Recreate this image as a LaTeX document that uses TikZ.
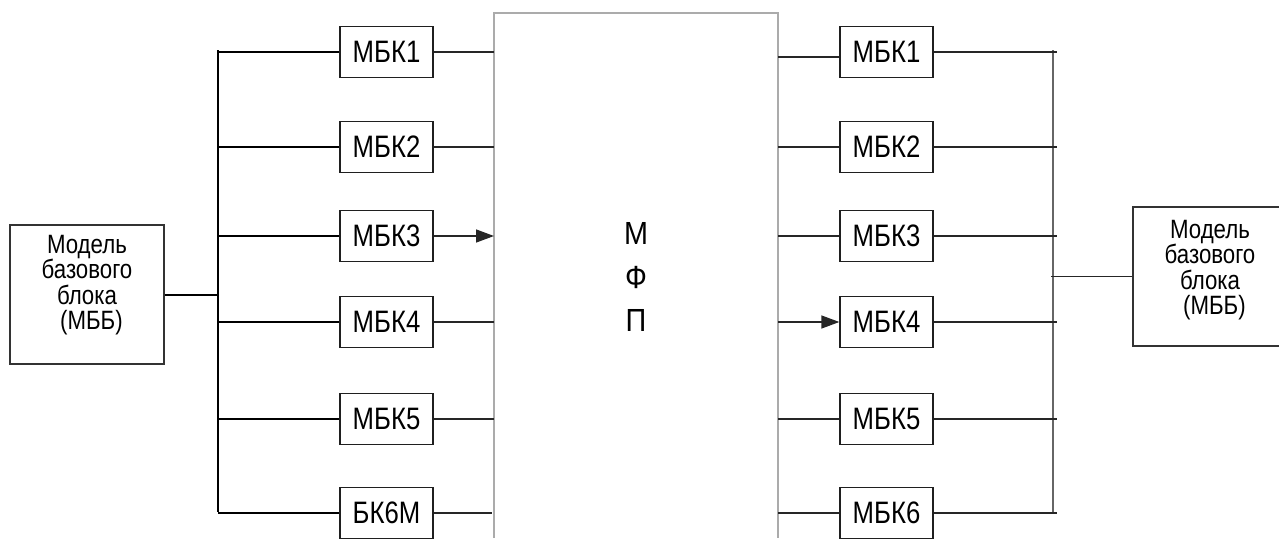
\documentclass[tikz,border=0pt]{standalone}
\usepackage{fontspec}
\setmainfont{Liberation Sans}
\usetikzlibrary{arrows.meta}
\newcommand\narrow[2][0.83]{\scalebox{#1}[1]{#2}}
\begin{document}
\begin{tikzpicture}[x=1pt,y=-1pt,
  box/.style={draw=black!88, line width=1.3pt, minimum width=93pt, minimum height=51pt,
    inner sep=0pt, font=\fontsize{31}{31}\selectfont},
  bigbox/.style={draw=black!80, line width=1.1pt, inner sep=0pt},
  lbl/.style={align=center, inner sep=0pt, font=\fontsize{26.5}{25.5}\selectfont},
  wire/.style={draw=black!85, line width=1.4pt},
  lbus/.style={draw=black, line width=2pt},
  rbus/.style={draw=black!60, line width=2pt},
  frame/.style={draw=black!33, line width=1.8pt},
  tip/.style={-{Triangle[length=18pt,width=13pt]}}
]
\useasboundingbox (0,0) rectangle (1279,538);

% central block (open at the bottom)
\coordinate (cL) at (494,538);
\coordinate (cR) at (778,538);
\draw[frame] (cL) -- (494,13) -- (778,13) -- (cR);
\node[font=\fontsize{32}{43.5}\selectfont, align=center, inner sep=0pt] (mfp) at (636,277)
  {\narrow[0.9]{М}\\\narrow[0.9]{Ф}\\\narrow[0.9]{П}};

% left base block
\node[bigbox, minimum width=154pt, minimum height=139pt] (mbbL) at (87,294.5) {};
\node[lbl] (mbbLt) at (87,285) {\narrow[0.84]{Модель}\\\narrow[0.84]{базового}\\\narrow[0.84]{блока}\\\narrow[0.84]{\hspace{0.4em}(МББ)}};

% left bus
\coordinate (lbt) at (218,50);
\coordinate (lbb) at (218,512);
\draw[lbus] (lbt) -- (lbb);
\draw[lbus] (mbbL.east) -- (mbbL.east -| lbt);

% left column of boxes
\node[box] (l1) at (386.5,52)  {\narrow{МБК1}};
\node[box] (l2) at (386.5,147) {\narrow{МБК2}};
\node[box] (l3) at (386.5,236) {\narrow{МБК3}};
\node[box] (l4) at (386.5,322) {\narrow{МБК4}};
\node[box] (l5) at (386.5,419) {\narrow{МБК5}};
\node[box] (l6) at (386.5,513) {\narrow{БК6М}};

\foreach \n in {1,...,6} {
  \draw[lbus] (l\n.west -| lbt) -- (l\n.west);
}
\draw[wire] (l1.east) -- (l1.east -| cL);
\draw[wire] (l2.east) -- (l2.east -| cL);
\draw[wire,tip] (l3.east) -- (l3.east -| cL);
\draw[wire] (l4.east) -- (l4.east -| cL);
\draw[wire] (l5.east) -- (l5.east -| cL);
\draw[wire] (l6.east) -- ([xshift=-2pt]l6.east -| cL);

% right column of boxes
\node[box] (r1) at (886.5,52)  {\narrow{МБК1}};
\node[box] (r2) at (886.5,147) {\narrow{МБК2}};
\node[box] (r3) at (886.5,236) {\narrow{МБК3}};
\node[box] (r4) at (886.5,322) {\narrow{МБК4}};
\node[box] (r5) at (886.5,419) {\narrow{МБК5}};
\node[box] (r6) at (886.5,513) {\narrow{МБК6}};

\draw[wire] ([yshift=-5pt]r1.west -| cR) -- ([yshift=-5pt]r1.west);
\draw[wire] (r2.west -| cR) -- (r2.west);
\draw[wire] (r3.west -| cR) -- (r3.west);
\draw[wire,tip] (r4.west -| cR) -- (r4.west);
\draw[wire] (r5.west -| cR) -- (r5.west);
\draw[wire] (r6.west -| cR) -- (r6.west);

% right bus
\coordinate (rbt) at (1053,50);
\coordinate (rbb) at (1053,513);
\coordinate (rend) at (1057,0);
\draw[rbus] (rbt) -- (rbb);
\foreach \n in {1,...,6} {
  \draw[wire] (r\n.east) -- (r\n.east -| rend);
}

% right base block
\node[bigbox, minimum width=147pt, minimum height=139pt] (mbbR) at (1206.5,276.5) {};
\node[lbl] (mbbRt) at (1210,270) {\narrow[0.84]{Модель}\\\narrow[0.84]{базового}\\\narrow[0.84]{блока}\\\narrow[0.84]{\hspace{0.4em}(МББ)}};
\draw[wire] ([xshift=-2pt]mbbR.west -| rbt) -- (mbbR.west);
\end{tikzpicture}
\end{document}
